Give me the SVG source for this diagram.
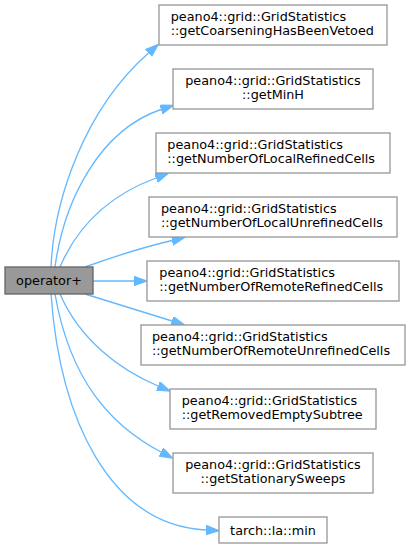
<svg xmlns="http://www.w3.org/2000/svg" width="411" height="549" viewBox="0 0 411 549">
<style>
  .n rect { fill: #ffffff; stroke: #999999; stroke-width: 1.33; }
  .n text { font-family: "DejaVu Sans", sans-serif; font-size: 12.8px; fill: #000000; }
  .c { text-anchor: middle; }
  #op rect { fill: #999999; stroke: #666666; }
  .e path { fill: none; stroke: #63b8ff; stroke-width: 1.33; }
</style>
<defs>
  <marker id="ah" markerUnits="userSpaceOnUse" markerWidth="14" markerHeight="10" refX="0" refY="4.7" orient="auto">
    <path d="M0,0 L13.3,4.7 L0,9.4 z" fill="#63b8ff" stroke="#63b8ff" stroke-width="1"/>
  </marker>
</defs>
<g id="edges" class="e">
  <path marker-end="url(#ah)" d="M51,267 C54,200 84,110 148.5,53"/>
  <path marker-end="url(#ah)" d="M55,267 C64,200 100,130 161,109.5"/>
  <path marker-end="url(#ah)" d="M60,267 C78,225 110,195 156,178"/>
  <path marker-end="url(#ah)" d="M85,267 C110,258 140,248 172,240.5"/>
  <path marker-end="url(#ah)" d="M93,281 L134,281"/>
  <path marker-end="url(#ah)" d="M85,294 C110,302 140,311 172,321"/>
  <path marker-end="url(#ah)" d="M60,294 C80,340 120,370 158,386"/>
  <path marker-end="url(#ah)" d="M55,294 C70,380 110,425 161,452"/>
  <path marker-end="url(#ah)" d="M51,294 C60,420 110,525 206,530"/>
</g>
<g id="n1" class="n"><rect x="159" y="5" width="228" height="40"/><text x="170.7" y="20.5">peano4::grid::GridStatistics</text><text x="170.7" y="35">::getCoarseningHasBeenVetoed</text></g>
<g id="n2" class="n"><rect x="173" y="69" width="200" height="40"/><text class="c" x="273" y="84.5">peano4::grid::GridStatistics</text><text class="c" x="273" y="99">::getMinH</text></g>
<g id="n3" class="n"><rect x="156" y="133" width="234" height="40"/><text x="167.3" y="148.5">peano4::grid::GridStatistics</text><text x="167.3" y="163">::getNumberOfLocalRefinedCells</text></g>
<g id="n4" class="n"><rect x="149" y="197" width="248" height="40"/><text x="161" y="212.5">peano4::grid::GridStatistics</text><text x="161" y="227">::getNumberOfLocalUnrefinedCells</text></g>
<g id="n5" class="n"><rect x="147" y="261" width="252" height="40"/><text x="159.3" y="276.5">peano4::grid::GridStatistics</text><text x="159.3" y="291">::getNumberOfRemoteRefinedCells</text></g>
<g id="n6" class="n"><rect x="141" y="325" width="264" height="40"/><text x="152" y="340.5">peano4::grid::GridStatistics</text><text x="152" y="355">::getNumberOfRemoteUnrefinedCells</text></g>
<g id="n7" class="n"><rect x="170" y="389" width="206" height="40"/><text x="181.7" y="404.5">peano4::grid::GridStatistics</text><text x="181.7" y="419">::getRemovedEmptySubtree</text></g>
<g id="n8" class="n"><rect x="173" y="453" width="200" height="40"/><text class="c" x="273" y="468.5">peano4::grid::GridStatistics</text><text class="c" x="273" y="483">::getStationarySweeps</text></g>
<g id="n9" class="n"><rect x="219" y="517" width="108" height="26"/><text class="c" x="273" y="534.5">tarch::la::min</text></g>
<g id="op" class="n"><rect x="5" y="267" width="88" height="27"/><text class="c" x="49" y="285">operator+</text></g>
</svg>
